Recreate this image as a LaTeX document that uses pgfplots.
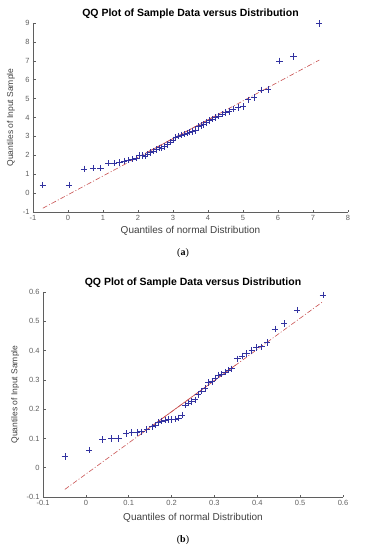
\documentclass[border=0pt]{standalone}
\usepackage{pgfplots}
\pgfplotsset{compat=1.18}
\usepackage{fontspec}
\setmainfont{Liberation Sans}
\newfontfamily\serif{Liberation Serif}
\definecolor{mk}{RGB}{50,50,160}
\definecolor{ln}{RGB}{200,80,80}
\definecolor{tk}{RGB}{95,95,95}
\pgfplotsset{qq/.style={
  scale only axis,
  axis lines=left, axis line style={-, tk, line width=0.5pt},
  tick align=inside, major tick length=2.5pt, tick style={tk, line width=0.5pt},
  ticklabel style={font=\fontsize{7.5}{9}\selectfont, text=tk},
  /pgf/number format/assume math mode=true,
  xlabel style={font=\fontsize{10}{12}\selectfont, text=black!75, at={(axis description cs:0.5,-0.1)}, anchor=center},
  ylabel style={font=\fontsize{8.5}{10}\selectfont, text=black!75, anchor=center},
  title style={font=\bfseries\fontsize{10.5}{12}\selectfont, at={(axis description cs:0.5,1)}, anchor=south, yshift=-5pt},
  xlabel={Quantiles of normal Distribution},
  ylabel={Quantiles of Input Sample},
  title={QQ Plot of Sample Data versus Distribution},
  clip=false,
}}
\begin{document}
\begin{tikzpicture}
\path[use as bounding box] (0,0) rectangle (366pt,-550pt);
% ---------- (a)
\begin{axis}[qq, at={(33pt,-212pt)}, anchor=south west,
  width=315pt, height=189pt,
  xmin=-1, xmax=8, ymin=-1, ymax=9,
  xtick={-1,0,...,8}, ytick={-1,0,...,9},
  ylabel style={at={(axis description cs:-0.07,0.5)}}]
\addplot[ln, line width=0.6pt, dash pattern=on 5pt off 2pt on 1pt off 2pt] coordinates {(-0.72,-0.80) (7.18,7.04)};
\addplot[ln, line width=0.6pt] coordinates {(2.2,2.09) (4.2,4.07)};
\addplot[only marks, mark=+, mark size=3.2pt, mk, mark options={line width=0.6pt}] coordinates {
(-0.72,0.43) (0.03,0.43) (0.46,1.28) (0.72,1.32) (0.93,1.32) (1.15,1.58) (1.32,1.58)
(1.47,1.62) (1.60,1.70) (1.72,1.74) (1.84,1.80) (1.94,1.86) (2.04,1.98) (2.12,2.00)
(2.20,1.96) (2.28,2.06) (2.36,2.14) (2.44,2.22) (2.52,2.30) (2.60,2.40) (2.68,2.38)
(2.76,2.46) (2.84,2.58) (2.92,2.70) (3.00,2.82) (3.08,2.94) (3.16,3.02) (3.24,3.08)
(3.32,3.12) (3.40,3.18) (3.48,3.22) (3.56,3.26) (3.64,3.32) (3.72,3.52) (3.80,3.58)
(3.88,3.64) (3.96,3.74) (4.04,3.84) (4.12,3.92) (4.20,4.00) (4.30,4.08) (4.40,4.18)
(4.50,4.26) (4.60,4.32) (4.72,4.44) (4.86,4.52) (5.00,4.58) (5.15,4.94) (5.32,5.06)
(5.51,5.46) (5.72,5.49) (6.04,7.00) (6.44,7.22) (7.18,8.98)};
\end{axis}
\node[font=\serif\fontsize{10}{12}\selectfont] at (183pt,-253pt) {(\textbf{a})};
% ---------- (b)
\begin{axis}[qq, at={(43pt,-497pt)}, anchor=south west,
  width=300pt, height=205pt,
  xmin=-0.1, xmax=0.6, ymin=-0.1, ymax=0.6,
  xtick={-0.1,0,0.1,0.2,0.3,0.4,0.5,0.6}, ytick={-0.1,0,0.1,0.2,0.3,0.4,0.5,0.6},
  yticklabel style={/pgf/number format/fixed},
  xticklabel style={/pgf/number format/fixed},
  ylabel style={at={(axis description cs:-0.093,0.5)}}]
\addplot[ln, line width=0.6pt, dash pattern=on 5pt off 2pt on 1pt off 2pt] coordinates {(-0.049,-0.074) (0.553,0.567)};
\addplot[ln, line width=0.6pt] coordinates {(0.13,0.117) (0.35,0.351)};
\addplot[only marks, mark=+, mark size=3.2pt, mk, mark options={line width=0.6pt}] coordinates {
(-0.049,0.038) (0.008,0.060) (0.039,0.097) (0.060,0.100) (0.076,0.100) (0.094,0.117)
(0.107,0.120) (0.119,0.120) (0.130,0.123) (0.142,0.130) (0.154,0.140) (0.161,0.145)
(0.169,0.155) (0.177,0.160) (0.185,0.163) (0.193,0.165) (0.200,0.165) (0.208,0.166)
(0.216,0.170) (0.224,0.180) (0.231,0.214) (0.239,0.220) (0.247,0.226) (0.255,0.232)
(0.262,0.250) (0.270,0.262) (0.278,0.271) (0.286,0.291) (0.294,0.294) (0.301,0.307)
(0.309,0.316) (0.317,0.320) (0.325,0.326) (0.332,0.333) (0.340,0.338) (0.354,0.372)
(0.364,0.382) (0.375,0.390) (0.387,0.400) (0.397,0.410) (0.410,0.413) (0.423,0.428)
(0.441,0.474) (0.463,0.493) (0.493,0.538) (0.553,0.590)};
\end{axis}
\node[font=\serif\fontsize{10}{12}\selectfont] at (183pt,-540pt) {(\textbf{b})};
\end{tikzpicture}
\end{document}
